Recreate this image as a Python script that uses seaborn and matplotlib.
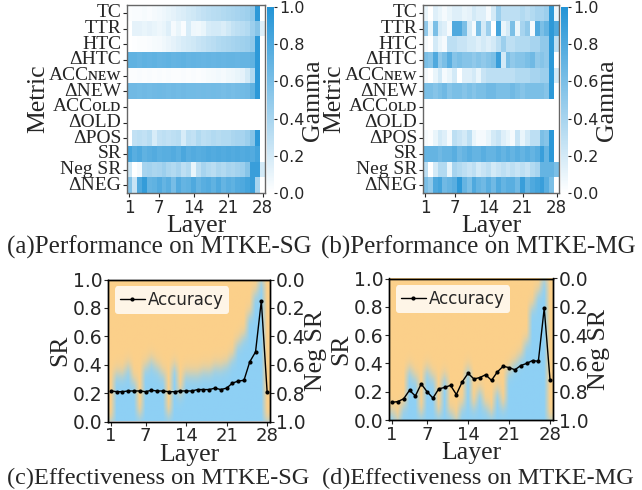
import numpy as np
import pandas as pd
import matplotlib
matplotlib.use("Agg")
import matplotlib.pyplot as plt
import seaborn as sns
from matplotlib.colors import LinearSegmentedColormap, to_rgb

# ---------------- data ----------------
metrics = ["TC", "TTR", "HTC", "ΔHTC", "ACCɴᴇᴡ", "ΔNEW", "ACCᴏʟᴅ", "ΔOLD",
           "ΔPOS", "SR", "Neg SR", "ΔNEG"]
layers = list(range(1, 29))
layer_ticks = [1, 7, 14, 21, 28]

# Panel (a) MTKE-SG gamma per metric (28 layers)
sg_tc = [0.02, 0.03, 0.03, 0.04, 0.03, 0.05, 0.06, 0.08, 0.10, 0.12, 0.15, 0.17, 0.20, 0.22,
         0.25, 0.28, 0.30, 0.32, 0.33, 0.35, 0.37, 0.38, 0.40, 0.42, 0.44, 0.50, 0.95, 0.00]
sg_ttr = [0.00, 0.12, 0.12, 0.10, 0.12, 0.10, 0.08, 0.10, 0.15, 0.05, 0.10, 0.03, 0.18, 0.08,
          0.07, 0.10, 0.18, 0.20, 0.20, 0.17, 0.22, 0.27, 0.30, 0.32, 0.35, 0.45, 0.55, 0.15]
sg_htc = [0.00, 0.01, 0.02, 0.02, 0.03, 0.04, 0.05, 0.07, 0.09, 0.12, 0.15, 0.18, 0.20, 0.22,
          0.25, 0.27, 0.30, 0.32, 0.35, 0.37, 0.38, 0.40, 0.42, 0.43, 0.45, 0.50, 0.95, 0.00]
sg_dhtc = [0.72, 0.72, 0.70, 0.72, 0.71, 0.72, 0.70, 0.71, 0.72, 0.70, 0.71, 0.72, 0.70, 0.71,
           0.70, 0.69, 0.70, 0.69, 0.70, 0.69, 0.70, 0.70, 0.69, 0.70, 0.70, 0.72, 0.95, 0.00]
sg_accnew = [0.02, 0.02, 0.03, 0.02, 0.03, 0.02, 0.03, 0.02, 0.03, 0.02, 0.02, 0.03, 0.02, 0.03,
             0.02, 0.03, 0.04, 0.05, 0.06, 0.05, 0.07, 0.08, 0.10, 0.12, 0.20, 0.35, 0.95, 0.00]
sg_dnew = [0.65, 0.65, 0.64, 0.65, 0.64, 0.65, 0.66, 0.65, 0.64, 0.65, 0.64, 0.65, 0.64, 0.64,
           0.63, 0.64, 0.63, 0.64, 0.63, 0.62, 0.63, 0.62, 0.63, 0.64, 0.65, 0.72, 0.95, 0.00]
sg_accold = [0.0] * 28
sg_dold = [0.0] * 28
sg_dpos = [0.00, 0.28, 0.30, 0.28, 0.32, 0.18, 0.28, 0.30, 0.28, 0.30, 0.32, 0.18, 0.30, 0.28,
           0.35, 0.30, 0.32, 0.35, 0.33, 0.35, 0.35, 0.38, 0.40, 0.40, 0.45, 0.55, 0.95, 0.00]
sg_sr = [0.85, 0.75, 0.80, 0.72, 0.75, 0.78, 0.74, 0.76, 0.75, 0.78, 0.74, 0.82, 0.75, 0.78,
         0.76, 0.77, 0.80, 0.78, 0.80, 0.78, 0.80, 0.78, 0.80, 0.78, 0.80, 0.78, 0.85, 0.00]
sg_negsr = [0.22, 0.00, 0.05, 0.40, 0.42, 0.38, 0.40, 0.45, 0.38, 0.35, 0.40, 0.30, 0.35, 0.10,
            0.30, 0.40, 0.35, 0.32, 0.38, 0.35, 0.40, 0.38, 0.42, 0.45, 0.55, 0.90, 0.90, 0.20]
sg_dneg = [0.55, 0.25, 0.80, 0.92, 0.70, 0.72, 0.78, 0.70, 0.75, 0.62, 0.78, 0.70, 0.72, 0.80,
           0.70, 0.75, 0.78, 0.72, 0.80, 0.70, 0.75, 0.72, 0.78, 0.80, 0.85, 0.90, 0.40, 0.00]

# Panel (b) MTKE-MG gamma per metric (28 layers)
mg_tc = [0.10, 0.00, 0.15, 0.10, 0.05, 0.10, 0.15, 0.15, 0.10, 0.12, 0.20, 0.15, 0.15, 0.05,
         0.20, 0.45, 0.30, 0.30, 0.30, 0.30, 0.35, 0.30, 0.35, 0.40, 0.40, 0.45, 0.95, 0.10]
mg_ttr = [0.50, 0.10, 0.60, 0.20, 0.15, 0.05, 0.80, 0.80, 0.60, 0.20, 0.05, 0.60, 0.20, 0.45,
          0.00, 0.85, 0.10, 0.20, 0.60, 0.10, 0.40, 0.50, 0.05, 0.80, 0.60, 0.70, 0.95, 0.80]
mg_htc = [0.05, 0.00, 0.20, 0.10, 0.05, 0.30, 0.30, 0.25, 0.25, 0.20, 0.20, 0.15, 0.20, 0.15,
          0.20, 0.30, 0.45, 0.30, 0.30, 0.35, 0.35, 0.35, 0.40, 0.40, 0.50, 0.50, 0.95, 0.30]
mg_dhtc = [0.60, 0.55, 0.80, 0.50, 0.60, 0.75, 0.55, 0.60, 0.55, 0.55, 0.50, 0.55, 0.50, 0.55,
           0.60, 0.90, 0.20, 0.60, 0.50, 0.55, 0.55, 0.60, 0.65, 0.50, 0.55, 0.50, 0.95, 0.00]
mg_accnew = [0.05, 0.00, 0.10, 0.20, 0.05, 0.10, 0.20, 0.00, 0.15, 0.15, 0.20, 0.10, 0.25, 0.30,
             0.30, 0.30, 0.30, 0.30, 0.30, 0.35, 0.35, 0.35, 0.40, 0.40, 0.45, 0.45, 0.95, 0.20]
mg_dnew = [0.60, 0.60, 0.55, 0.60, 0.65, 0.55, 0.60, 0.60, 0.55, 0.60, 0.55, 0.60, 0.60, 0.65,
           0.65, 0.60, 0.60, 0.60, 0.65, 0.60, 0.55, 0.60, 0.60, 0.60, 0.60, 0.55, 0.95, 0.00]
mg_accold = [0.0] * 28
mg_dold = [0.0] * 28
mg_dpos = [0.05, 0.02, 0.10, 0.20, 0.15, 0.05, 0.30, 0.25, 0.20, 0.30, 0.10, 0.05, 0.05, 0.10,
           0.20, 0.25, 0.15, 0.10, 0.05, 0.25, 0.10, 0.20, 0.30, 0.30, 0.60, 0.55, 0.95, 0.00]
mg_sr = [0.70, 0.70, 0.70, 0.65, 0.70, 0.70, 0.75, 0.65, 0.70, 0.75, 0.70, 0.70, 0.75, 0.70,
         0.70, 0.75, 0.70, 0.75, 0.70, 0.75, 0.70, 0.75, 0.70, 0.75, 0.90, 0.70, 0.95, 0.00]
mg_negsr = [0.30, 0.00, 0.20, 0.35, 0.35, 0.10, 0.40, 0.35, 0.30, 0.25, 0.30, 0.20, 0.25, 0.30,
            0.20, 0.25, 0.30, 0.25, 0.30, 0.25, 0.30, 0.25, 0.35, 0.40, 0.70, 0.70, 0.70, 0.60]
mg_dneg = [0.60, 0.50, 0.80, 0.85, 0.65, 0.70, 0.75, 0.95, 0.70, 0.60, 0.80, 0.70, 0.65, 0.75,
           0.65, 0.80, 0.70, 0.75, 0.75, 0.65, 0.90, 0.70, 0.80, 0.85, 0.90, 0.75, 0.60, 0.00]

# Panel (c)/(d): accuracy line and SR share (blue) per layer
sg_accuracy = [0.215, 0.21, 0.21, 0.215, 0.215, 0.215, 0.21, 0.22, 0.215, 0.215, 0.21, 0.21, 0.215, 0.215,
               0.215, 0.225, 0.225, 0.225, 0.235, 0.225, 0.235, 0.27, 0.285, 0.29, 0.42, 0.49, 0.85, 0.21]
mg_accuracy = [0.125, 0.13, 0.15, 0.21, 0.17, 0.255, 0.20, 0.155, 0.22, 0.23, 0.245, 0.18, 0.27, 0.33,
               0.29, 0.30, 0.32, 0.28, 0.34, 0.38, 0.37, 0.355, 0.385, 0.40, 0.42, 0.415, 0.79, 0.28]
sg_sr_share = [0.00, 0.33, 0.33, 0.38, 0.28, 0.05, 0.38, 0.42, 0.38, 0.33, 0.05, 0.38, 0.20, 0.33,
               0.33, 0.33, 0.35, 0.35, 0.38, 0.38, 0.40, 0.45, 0.55, 0.60, 0.75, 0.90, 1.00, 0.00]
mg_sr_share = [0.05, 0.00, 0.10, 0.35, 0.30, 0.05, 0.35, 0.30, 0.05, 0.30, 0.05, 0.00, 0.10, 0.35,
               0.10, 0.20, 0.10, 0.05, 0.20, 0.10, 0.35, 0.40, 0.45, 0.55, 0.80, 0.90, 1.00, 0.00]

# ---------------- style ----------------
sns.set_style("ticks")
plt.rcParams['font.family'] = ['DejaVu Sans']
SERIF = ['Liberation Serif', 'DejaVu Serif']
LAB = 18.5

cmap = LinearSegmentedColormap.from_list("gam", ["#ffffff", "#2394d6"])
ORANGE = "#FCD08A"
BLUE = "#8ED0F5"

W, H = 642, 490
fig = plt.figure(figsize=(W / 100, H / 100), dpi=100)


def frac(x0, y0, x1, y1):
    return [x0 / W, 1 - y1 / H, (x1 - x0) / W, (y1 - y0) / H]


def heat(rows, hx0, hx1, cx0, cx1):
    df = pd.DataFrame(rows, index=metrics, columns=layers)
    ax = fig.add_axes(frac(hx0, 5, hx1, 193))
    cax = fig.add_axes(frac(cx0, 7, cx1, 193))
    sns.heatmap(df, ax=ax, cbar_ax=cax, cmap=cmap, vmin=0, vmax=1,
                cbar_kws={'ticks': [0, 0.2, 0.4, 0.6, 0.8, 1.0]})
    ax.set_xticks([layers.index(t) + 0.5 for t in layer_ticks])
    ax.set_xticklabels([str(t) for t in layer_ticks], rotation=0, fontsize=12)
    ax.set_yticks(np.arange(len(metrics)) + 0.5)
    ax.set_yticklabels(metrics, rotation=0, fontsize=14, family=SERIF)
    ax.tick_params(length=3, width=0.8, pad=1)
    for s in ax.spines.values():
        s.set_visible(True)
        s.set_color('#666666')
        s.set_linewidth(1.0)
    ax.set_xlabel("Layer", family=SERIF, fontsize=LAB, labelpad=-1)
    ax.set_ylabel("Metric", family=SERIF, fontsize=LAB, labelpad=0)
    cax.tick_params(labelsize=11.5, length=2, pad=1.5)
    cax.set_yticklabels(["0.0", "0.2", "0.4", "0.6", "0.8", "1.0"])
    cax.set_ylabel("Gamma", family=SERIF, fontsize=LAB, labelpad=-1.5)


heat([sg_tc, sg_ttr, sg_htc, sg_dhtc, sg_accnew, sg_dnew, sg_accold, sg_dold,
      sg_dpos, sg_sr, sg_negsr, sg_dneg], 127, 265, 267, 274)
heat([mg_tc, mg_ttr, mg_htc, mg_dhtc, mg_accnew, mg_dnew, mg_accold, mg_dold,
      mg_dpos, mg_sr, mg_negsr, mg_dneg], 423, 559, 561, 568)


def effect(acc, share, x0, x1, y0, y1):
    ax = fig.add_axes(frac(x0, y0, x1, y1))
    yy = np.linspace(0, 1, 300)[:, None]
    b = np.array(share)[None, :]
    t = 1 / (1 + np.exp(-(yy - b) / 0.03))  # 0 -> blue, 1 -> orange
    c_b = np.array(to_rgb(BLUE))
    c_o = np.array(to_rgb(ORANGE))
    img = (1 - t)[..., None] * c_b + t[..., None] * c_o
    ax.imshow(img, origin='lower', aspect='auto', interpolation='bilinear',
              extent=[layers[0] - 0.5, layers[-1] + 0.5, 0, 1], zorder=0)
    df = pd.DataFrame({"Layer": layers, "Accuracy": acc})
    sns.lineplot(data=df, x="Layer", y="Accuracy", ax=ax, color='black', lw=1.0,
                 marker='o', markersize=3, markeredgewidth=0, label="Accuracy", zorder=3)
    ax.set_xlim(layers[0] - 0.5, layers[-1] + 0.5)
    ax.set_ylim(0, 1)
    ax.set_xticks(layer_ticks)
    ax.set_yticks([0, 0.2, 0.4, 0.6, 0.8, 1.0])
    ax.set_yticklabels(["0.0", "0.2", "0.4", "0.6", "0.8", "1.0"])
    ax.tick_params(axis='y', labelsize=13.5, length=3, pad=1)
    ax.tick_params(axis='x', labelsize=13, length=3, pad=1)
    ax.set_xlabel("Layer", family=SERIF, fontsize=LAB, labelpad=-1)
    ax.set_ylabel("SR", family=SERIF, fontsize=LAB, labelpad=1)
    ax.legend(loc='upper left', fontsize=12, frameon=True, framealpha=0.8,
              edgecolor='none', facecolor='white', handlelength=1.5,
              handletextpad=0.2, borderpad=0.3, borderaxespad=0.4)
    ax2 = ax.twinx()
    ax2.set_ylim(1, 0)
    ax2.set_yticks([0, 0.2, 0.4, 0.6, 0.8, 1.0])
    ax2.set_yticklabels(["0.0", "0.2", "0.4", "0.6", "0.8", "1.0"])
    ax2.tick_params(labelsize=13.5, length=3, pad=1)
    ax2.set_ylabel("Neg SR", family=SERIF, fontsize=LAB, labelpad=0)
    for a in (ax, ax2):
        for s in a.spines.values():
            s.set_color('black')
            s.set_linewidth(1.0)


effect(sg_accuracy, sg_sr_share, 108, 270, 279.5, 421.5)
effect(mg_accuracy, mg_sr_share, 389, 553, 278.5, 420)

fig.text(159 / W, 1 - 247 / H, "(a)Performance on MTKE-SG", family=SERIF, fontsize=18,
         ha='center', va='center')
fig.text(478 / W, 1 - 247 / H, "(b)Performance on MTKE-MG", family=SERIF, fontsize=18,
         ha='center', va='center')
fig.text(158 / W, 1 - 478 / H, "(c)Effectiveness on MTKE-SG", family=SERIF, fontsize=17.5,
         ha='center', va='center')
fig.text(478 / W, 1 - 478 / H, "(d)Effectiveness on MTKE-MG", family=SERIF, fontsize=17.5,
         ha='center', va='center')

fig.savefig("out.png", dpi=100)
